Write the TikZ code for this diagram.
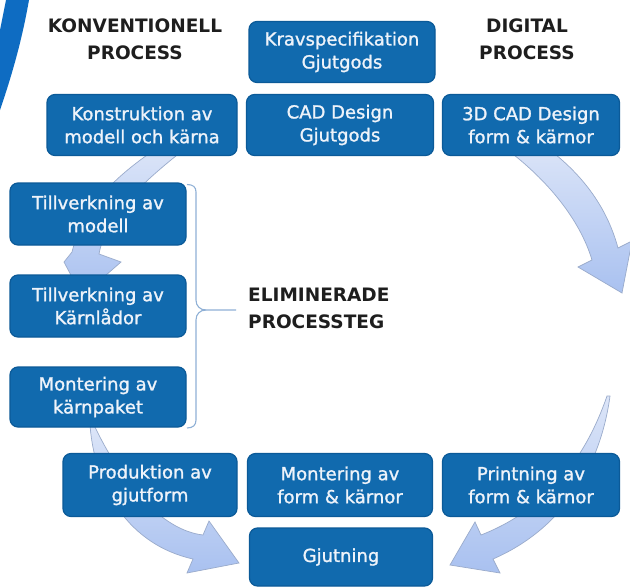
\documentclass[tikz,border=0pt]{standalone}
\usepackage{fontspec}
\setmainfont{DejaVu Sans}
\newfontfamily\stepfont[FakeBold=1.3]{DejaVu Sans}

\definecolor{boxblue}{HTML}{116AAE}
\definecolor{boxedge}{HTML}{0B5A98}
\definecolor{boxtext}{HTML}{EEF3FA}
\definecolor{flowlight}{HTML}{DCE5F8}
\definecolor{flowdark}{HTML}{A9C1F0}
\definecolor{flowedge}{HTML}{9AABCB}
\definecolor{stripe}{HTML}{0E6CC2}
\definecolor{bracecol}{HTML}{8FB0D6}
\definecolor{headtext}{HTML}{1E1E1E}

\tikzset{
  stepbox/.style={rounded corners=8pt, fill=boxblue, draw=boxedge, line width=1.2pt,
    text=boxtext, align=center, font=\stepfont\fontsize{18}{23}\selectfont, inner sep=0pt},
  heading/.style={text=headtext, align=center, font=\bfseries\fontsize{18.5}{27}\selectfont, inner sep=0pt},
  flow/.style={draw=flowedge, line width=0.7pt, top color=flowlight, bottom color=flowdark},
  brace/.style={draw=bracecol, line width=1.1pt},
}

\begin{document}
\begin{tikzpicture}[x=1pt,y=-1pt]
\useasboundingbox (0,0) rectangle (630,587);
\fill[white] (0,0) rectangle (630,587);

% curved flow arrows behind the boxes
\begin{scope}
  \clip (0,0) rectangle (630,587);
  % right side, upper arc
  \path[flow] (505,148) .. controls (548,180) and (580,220) .. (592,260)
    -- (578,267) -- (622,293) -- (632,241) -- (618,248)
    .. controls (605,200) and (575,168) .. (542,144) -- cycle;
  % right side, lower arc
  \path[flow] (607,396) .. controls (585,460) and (545,510) .. (481,535)
    -- (475,522) -- (450,565) -- (500,573) -- (493,559)
    .. controls (560,530) and (600,470) .. (610,396) -- cycle;
  % left side, upper arc
  \path[flow] (186,148) .. controls (145,180) and (106,215) .. (99,254)
    -- (121,262) -- (82,296) -- (64,262) -- (72,252)
    .. controls (85,200) and (125,170) .. (160,146) -- cycle;
  % left side, lower arc
  \path[flow] (94,425) .. controls (120,480) and (160,530) .. (203,535)
    -- (209,521) -- (239,563) -- (187,573) -- (193,559)
    .. controls (130,545) and (95,490) .. (90,425) -- cycle;
  % corner stripe
  \fill[stripe] (6,0) -- (29,0) .. controls (22,40) and (12,75) .. (0,110) -- (0,30) -- cycle;
\end{scope}

% headings
\node[heading] (konv) at (135,39) {KONVENTIONELL\\PROCESS};
\node[heading] (digi) at (527,39) {DIGITAL\\PROCESS};
\node[heading, align=left, anchor=west] (elim) at (248,308.5) {ELIMINERADE\\PROCESSTEG};

% process steps
\node[stepbox, minimum width=186pt, minimum height=61pt] (krav)  at (342,52)  {Kravspecifikation\\Gjutgods};
\node[stepbox, minimum width=190pt, minimum height=61pt] (kons)  at (142,125) {Konstruktion av\\modell och kärna};
\node[stepbox, minimum width=187pt, minimum height=61pt] (cad)   at (340,125) {CAD Design\\Gjutgods};
\node[stepbox, minimum width=177pt, minimum height=61pt] (cad3d) at (531,125) {3D CAD Design\\form \& kärnor};
\node[stepbox, minimum width=176pt, minimum height=62pt] (tmod)  at (98,214)  {Tillverkning av\\modell};
\node[stepbox, minimum width=176pt, minimum height=62pt] (tkarn) at (98,306)  {Tillverkning av\\Kärnlådor};
\node[stepbox, minimum width=176pt, minimum height=60pt] (mkarn) at (98,397)  {Montering av\\kärnpaket};
\node[stepbox, minimum width=174pt, minimum height=63pt] (prod)  at (150,485) {Produktion av\\gjutform};
\node[stepbox, minimum width=185pt, minimum height=63pt] (mform) at (340,485) {Montering av\\form \& kärnor};
\node[stepbox, minimum width=177pt, minimum height=63pt] (print) at (531,485) {Printning av\\form \& kärnor};
\node[stepbox, minimum width=183pt, minimum height=58pt] (gjut)  at (341,557) {Gjutning};

% brace grouping the eliminated steps
\coordinate (bracetip) at (236,310);
\draw[brace] (187,184.5) .. controls (193,184.5) and (196,187) .. (196,192) -- (196,300)
  .. controls (196,306) and (200,310) .. (206,310) -- (bracetip);
\draw[brace] (206,310) .. controls (200,310) and (196,314) .. (196,320) -- (196,420)
  .. controls (196,425) and (193,428) .. (187,428);
\end{tikzpicture}
\end{document}
